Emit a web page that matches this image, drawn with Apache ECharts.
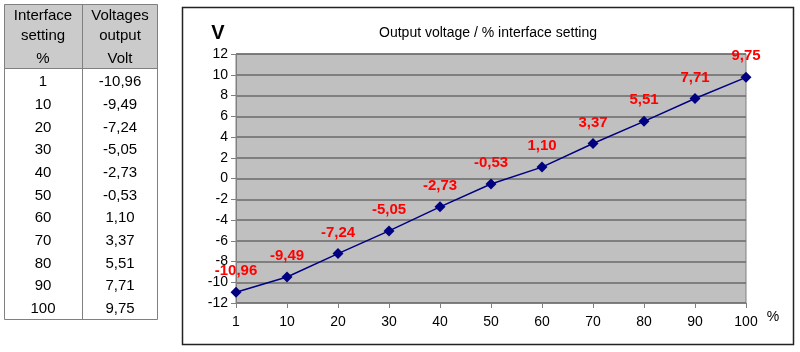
<!DOCTYPE html>
<html>
<head>
<meta charset="utf-8">
<script src="https://cdn.jsdelivr.net/npm/echarts@6/dist/echarts.min.js"></script>
<style>
html,body{margin:0;padding:0;background:#fff;}
#c{width:800px;height:352px;}
</style>
</head>
<body>
<div id="c"></div>
<script>
var settings = ['1','10','20','30','40','50','60','70','80','90','100'];
var voltages = [-10.96,-9.49,-7.24,-5.05,-2.73,-0.53,1.10,3.37,5.51,7.71,9.75];
var headerCol1 = ['Interface','setting','%'];
var headerCol2 = ['Voltages','output','Volt'];
var chartTitle = 'Output voltage / % interface setting';
var yUnit = 'V';
var xUnit = '%';

function fmt(v){ return v.toFixed(2).replace('.', ','); }

var FONT = 'Arial, "Liberation Sans", sans-serif';
var chart = echarts.init(document.getElementById('c'), null, {renderer:'canvas'});

// table graphics
var g = [];
g.push({type:'rect', shape:{x:4,y:4,width:154,height:64}, style:{fill:'#cbcbcb'}, z:1});
g.push({type:'rect', shape:{x:4.5,y:4.5,width:153,height:315}, style:{fill:'none',stroke:'#808080',lineWidth:1}, z:2});
g.push({type:'line', shape:{x1:4,y1:68.5,x2:158,y2:68.5}, style:{stroke:'#808080',lineWidth:1}, z:2});
g.push({type:'line', shape:{x1:82.5,y1:4,x2:82.5,y2:320}, style:{stroke:'#808080',lineWidth:1}, z:2});
var hy = [16,36,59];
headerCol1.forEach(function(t,i){
  g.push({type:'text', x:43, y:hy[i], style:{text:t, font:'15px '+FONT, fill:'#000', align:'center', verticalAlign:'middle'}, z:3});
});
headerCol2.forEach(function(t,i){
  g.push({type:'text', x:120, y:hy[i], style:{text:t, font:'15px '+FONT, fill:'#000', align:'center', verticalAlign:'middle'}, z:3});
});
settings.forEach(function(s,i){
  var y = 82 + i*22.7;
  g.push({type:'text', x:43, y:y, style:{text:s, font:'15px '+FONT, fill:'#000', align:'center', verticalAlign:'middle'}, z:3});
  g.push({type:'text', x:120, y:y, style:{text:fmt(voltages[i]), font:'15px '+FONT, fill:'#000', align:'center', verticalAlign:'middle'}, z:3});
});
// chart frame
g.push({type:'rect', shape:{x:182.5,y:7.5,width:611,height:337}, style:{fill:'none',stroke:'#222',lineWidth:1.5}, z:0});
g.push({type:'text', x:218, y:33, style:{text:yUnit, font:'bold 20px '+FONT, fill:'#000', align:'center', verticalAlign:'middle'}, z:3});
g.push({type:'text', x:488, y:33, style:{text:chartTitle, font:'14px '+FONT, fill:'#000', align:'center', verticalAlign:'middle'}, z:3});
g.push({type:'text', x:773, y:317, style:{text:xUnit, font:'14px '+FONT, fill:'#000', align:'center', verticalAlign:'middle'}, z:3});

chart.setOption({
  animation:false,
  backgroundColor:'#fff',
  grid:{left:236, right:54, top:54, bottom:49, show:true, backgroundColor:'#c0c0c0', borderColor:'#808080', borderWidth:1},
  xAxis:{
    type:'category', data:settings, boundaryGap:false,
    axisLine:{show:true, onZero:false, lineStyle:{color:'#808080', width:1}},
    axisTick:{show:true, alignWithLabel:true, length:5, lineStyle:{color:'#808080'}},
    axisLabel:{color:'#000', fontSize:14, fontFamily:FONT, margin:12},
    splitLine:{show:false}
  },
  yAxis:{
    type:'value', min:-12, max:12, interval:2,
    axisLine:{show:true, lineStyle:{color:'#808080', width:1}},
    axisTick:{show:true, length:5, lineStyle:{color:'#808080'}},
    axisLabel:{color:'#000', fontSize:14, fontFamily:FONT, margin:8},
    splitLine:{show:true, lineStyle:{color:'#6a6a6a', width:1.5}}
  },
  series:[{
    type:'line', data:voltages,
    symbol:'diamond', symbolSize:11,
    lineStyle:{color:'#000080', width:1.5},
    itemStyle:{color:'#000080'},
    label:{show:true, position:'top', distance:8, formatter:function(p){return fmt(p.value);},
      color:'#ff0000', fontSize:15, fontWeight:'bold', fontFamily:FONT}
  }],
  graphic:g
});
</script>
</body>
</html>
